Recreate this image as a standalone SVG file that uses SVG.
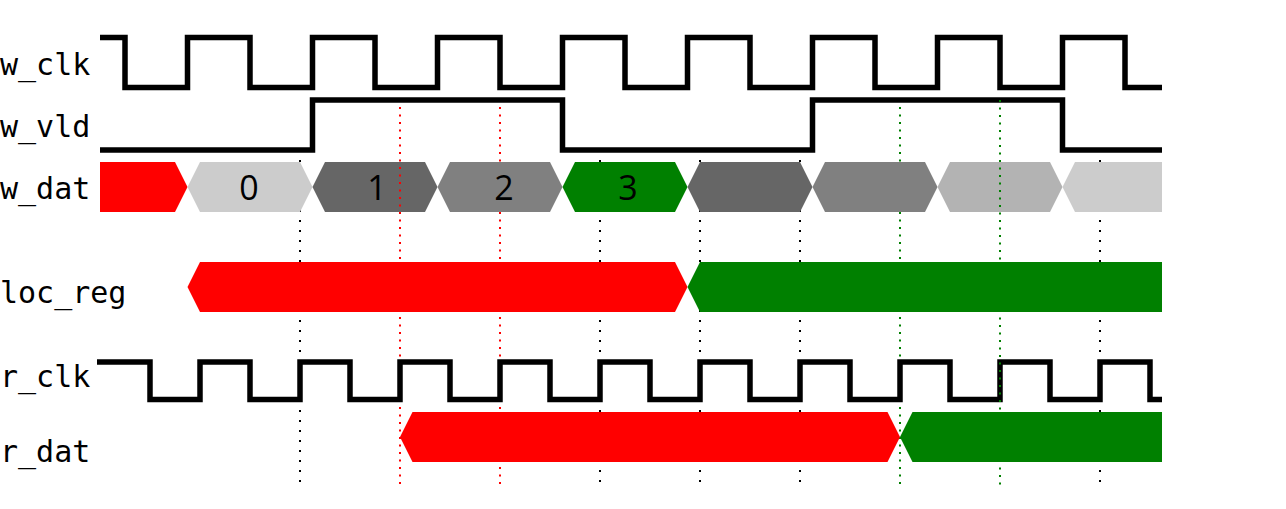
<svg xmlns="http://www.w3.org/2000/svg" width="1286" height="509" viewBox="0 0 1286 509">
<style>
.lbl{font-family:"DejaVu Sans Mono","Liberation Mono",monospace;font-size:30px;fill:#000}
.num{font-family:"Open Sans","Noto Sans",sans-serif;font-size:34px;fill:#000;text-anchor:middle}
.wave{fill:none;stroke:#000;stroke-width:5.5;stroke-linejoin:miter;stroke-linecap:butt}
.gk{stroke:#000;stroke-width:2;stroke-dasharray:2 8;fill:none}
.gr{stroke:#ff0000;stroke-width:2;stroke-dasharray:2 5.5;fill:none}
.gg{stroke:#008000;stroke-width:2;stroke-dasharray:2 5.5;fill:none}
.red{fill:#ff0000}.grn{fill:#008000}.g1{fill:#cccccc}.g2{fill:#666666}.g3{fill:#808080}.g4{fill:#b3b3b3}
</style>
<rect width="1286" height="509" fill="#fff"/>
<g id="connectors">
<g id="guides-under">
<line class="gk" x1="300" y1="160" x2="300" y2="482"/>
<line class="gk" x1="600" y1="160" x2="600" y2="482"/>
<line class="gk" x1="700" y1="160" x2="700" y2="482"/>
<line class="gk" x1="800" y1="160" x2="800" y2="482"/>
<line class="gk" x1="1100" y1="160" x2="1100" y2="482"/>
<line class="gr" x1="500" y1="107" x2="500" y2="486"/>
<line class="gg" x1="900" y1="107" x2="900" y2="486"/>
</g>
</g>
<g id="w_clk">
<text class="lbl" x="0" y="75">w_clk</text>
<path class="wave" d="M100,37.5H125V87.5H187.5V37.5H250V87.5H312.5V37.5H375V87.5H437.5V37.5H500V87.5H562.5V37.5H625V87.5H687.5V37.5H750V87.5H812.5V37.5H875V87.5H937.5V37.5H1000V87.5H1062.5V37.5H1125V87.5H1162"/>
</g>
<g id="w_vld">
<text class="lbl" x="0" y="137">w_vld</text>
<path class="wave" d="M100,150H312.5V100H562.5V150H812.5V100H1062.5V150H1162"/>
</g>
<g id="w_dat">
<text class="lbl" x="0" y="199">w_dat</text>
<path class="red" d="M100,162H175L187.5,187L175,212H100Z"/>
<path class="g1" d="M187.5,187L200,162H300L312.5,187L300,212H200Z"/>
<path class="g2" d="M312.5,187L325,162H425L437.5,187L425,212H325Z"/>
<path class="g3" d="M437.5,187L450,162H550L562.5,187L550,212H450Z"/>
<path class="grn" d="M562.5,187L575,162H675L687.5,187L675,212H575Z"/>
<path class="g2" d="M687.5,187L700,162H800L812.5,187L800,212H700Z"/>
<path class="g3" d="M812.5,187L825,162H925L937.5,187L925,212H825Z"/>
<path class="g4" d="M937.5,187L950,162H1050L1062.5,187L1050,212H950Z"/>
<path class="g1" d="M1062.5,187L1075,162H1162V212H1075Z"/>
<text class="num" x="249" y="200">0</text>
<text class="num" x="377" y="200">1</text>
<text class="num" x="504" y="200">2</text>
<text class="num" x="628" y="200">3</text>
</g>
<g id="guide-red-400">
<line class="gr" x1="400" y1="107" x2="400" y2="486"/>
</g>
<g id="loc_reg">
<text class="lbl" x="0" y="303">loc_reg</text>
<path class="red" d="M187.5,287L200,262H675L687.5,287L675,312H200Z"/>
<path class="grn" d="M687.5,287L700,262H1162V312H700Z"/>
</g>
<g id="r_clk">
<text class="lbl" x="0" y="387">r_clk</text>
<path class="wave" d="M97,362H150V399.5H200V362H250V399.5H300V362H350V399.5H400V362H450V399.5H500V362H550V399.5H600V362H650V399.5H700V362H750V399.5H800V362H850V399.5H900V362H950V399.5H1000V362H1050V399.5H1100V362H1150V399.5H1162"/>
</g>
<g id="r_dat">
<text class="lbl" x="0" y="462">r_dat</text>
<path class="red" d="M400,437L412.5,412H887.5L900,437L887.5,462H412.5Z"/>
<path class="grn" d="M900,437L912.5,412H1162V462H912.5Z"/>
</g>
<g id="guide-green-1000">
<line class="gg" x1="1000" y1="100" x2="1000" y2="486"/>
</g>
</svg>
